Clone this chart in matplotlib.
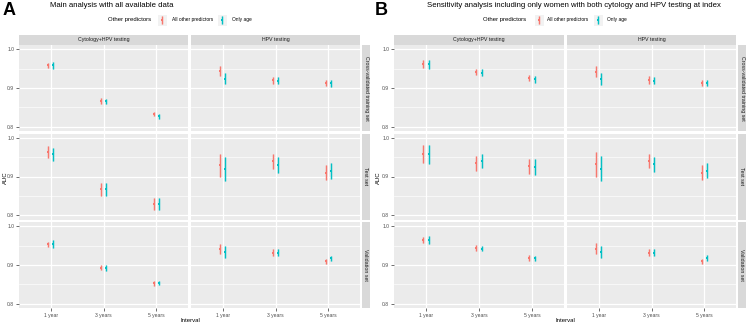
import matplotlib
matplotlib.use("Agg")
import matplotlib.pyplot as plt
import numpy as np

plt.rcParams['font.family'] = ['Liberation Sans', 'DejaVu Sans']

intervals = ["1 year", "3 years", "5 years"]
testing = ["Cytology+HPV testing", "HPV testing"]
sets = ["Cross-validated training set", "Test set", "Validation set"]
predictors = ["All other predictors", "Only age"]
colors = ["#F8766D", "#00BFC4"]

# Rows: sets; columns: Cytology+HPV (1y,3y,5y), HPV (1y,3y,5y)
# Panel A - All other predictors
A_all_auc = [[0.958, 0.867, 0.833, 0.944, 0.920, 0.912],
             [0.964, 0.867, 0.830, 0.930, 0.939, 0.910],
             [0.953, 0.893, 0.853, 0.941, 0.932, 0.909]]
A_all_lo = [[0.951, 0.860, 0.827, 0.931, 0.911, 0.904],
            [0.948, 0.849, 0.815, 0.900, 0.920, 0.890],
            [0.946, 0.887, 0.847, 0.927, 0.924, 0.902]]
A_all_hi = [[0.965, 0.874, 0.839, 0.957, 0.929, 0.920],
            [0.979, 0.884, 0.844, 0.959, 0.958, 0.930],
            [0.960, 0.899, 0.859, 0.955, 0.940, 0.916]]
# Panel A - Only age
A_age_auc = [[0.958, 0.866, 0.827, 0.924, 0.919, 0.912],
             [0.957, 0.867, 0.830, 0.919, 0.930, 0.914],
             [0.954, 0.892, 0.854, 0.934, 0.932, 0.917]]
A_age_lo = [[0.950, 0.859, 0.820, 0.909, 0.910, 0.903],
            [0.940, 0.849, 0.815, 0.888, 0.910, 0.894],
            [0.944, 0.885, 0.848, 0.919, 0.924, 0.910]]
A_age_hi = [[0.966, 0.873, 0.834, 0.939, 0.928, 0.921],
            [0.973, 0.884, 0.845, 0.951, 0.949, 0.934],
            [0.964, 0.899, 0.860, 0.948, 0.940, 0.924]]
# Panel B - All other predictors
B_all_auc = [[0.962, 0.942, 0.925, 0.942, 0.920, 0.912],
             [0.958, 0.935, 0.926, 0.932, 0.940, 0.910],
             [0.965, 0.944, 0.918, 0.942, 0.932, 0.909]]
B_all_lo = [[0.951, 0.934, 0.917, 0.928, 0.910, 0.904],
            [0.934, 0.915, 0.907, 0.900, 0.921, 0.890],
            [0.957, 0.937, 0.911, 0.927, 0.924, 0.902]]
B_all_hi = [[0.973, 0.950, 0.933, 0.956, 0.930, 0.920],
            [0.982, 0.953, 0.944, 0.962, 0.958, 0.930],
            [0.973, 0.951, 0.925, 0.956, 0.940, 0.916]]
# Panel B - Only age
B_age_auc = [[0.961, 0.939, 0.922, 0.923, 0.919, 0.912],
             [0.957, 0.941, 0.924, 0.920, 0.931, 0.915],
             [0.965, 0.942, 0.917, 0.934, 0.932, 0.917]]
B_age_lo = [[0.949, 0.930, 0.913, 0.908, 0.909, 0.904],
            [0.932, 0.922, 0.905, 0.888, 0.911, 0.895],
            [0.955, 0.935, 0.910, 0.918, 0.924, 0.909]]
B_age_hi = [[0.973, 0.948, 0.931, 0.938, 0.929, 0.920],
            [0.981, 0.958, 0.944, 0.952, 0.950, 0.935],
            [0.975, 0.949, 0.924, 0.949, 0.940, 0.925]]

y_ticks = [0.8, 0.9, 1.0]
y_ticklabels = ["0.8", "0.9", "1.0"]

W, H = 747, 325
fig = plt.figure(figsize=(W / 100, H / 100), dpi=100)


def box(x0, y0, x1, y1):
    return [x0 / W, 1 - y1 / H, (x1 - x0) / W, (y1 - y0) / H]


def draw_analysis(ox, letter, title, col_x, strip_x, data, auc_x, interval_x, legend_x):
    row_y = [(45, 131), (133.5, 219.5), (222, 308)]
    xpos = np.arange(len(intervals)) + 1
    dodge = 0.05
    for r, (y0, y1) in enumerate(row_y):
        for c, (x0, x1) in enumerate(col_x):
            ax = fig.add_axes(box(x0, y0, x1, y1))
            ax.set_facecolor("#EBEBEB")
            for s in ax.spines.values():
                s.set_visible(False)
            ax.set_xlim(0.4, 3.6)
            ax.set_ylim(0.7895, 1.0105)
            ax.set_yticks(y_ticks)
            ax.set_yticks([0.85, 0.95], minor=True)
            ax.set_xticks(xpos)
            ax.grid(True, which="major", color="white", lw=0.9)
            ax.grid(True, which="minor", axis="y", color="white", lw=0.45)
            ax.set_axisbelow(True)
            ax.tick_params(which="minor", length=0)
            ax.tick_params(which="major", length=2, width=0.5, color="#333333",
                           labelsize=3.6, labelcolor="#4D4D4D", pad=1.5)
            if c == 0:
                ax.set_yticklabels(y_ticklabels)
            else:
                ax.tick_params(axis="y", which="major", length=0, labelleft=False)
            if r == 2:
                ax.set_xticklabels(intervals)
            else:
                ax.tick_params(axis="x", which="major", length=0, labelbottom=False)
            for p, (auc, lo, hi) in enumerate(data):
                est = np.array(auc[r][c * 3:(c + 1) * 3])
                l = np.array(lo[r][c * 3:(c + 1) * 3])
                h = np.array(hi[r][c * 3:(c + 1) * 3])
                xx = xpos + (p * 2 - 1) * dodge
                ax.vlines(xx, l, h, color=colors[p], lw=1.8, alpha=0.3)
                ax.vlines(xx, l, h, color=colors[p], lw=0.7)
                ax.plot(xx, est, "s", color=colors[p], ms=2.0, mew=0)
            if r == 0:
                sa = fig.add_axes(box(x0, 35, x1, 44.5))
                sa.set_facecolor("#D9D9D9")
                sa.set_xticks([]); sa.set_yticks([])
                for s in sa.spines.values():
                    s.set_visible(False)
                sa.text(0.5, 0.5, testing[c], ha="center", va="center",
                        fontsize=3.8, color="#1A1A1A", transform=sa.transAxes)
        ra = fig.add_axes(box(strip_x[0], y0, strip_x[1], y1))
        ra.set_facecolor("#D9D9D9")
        ra.set_xticks([]); ra.set_yticks([])
        for s in ra.spines.values():
            s.set_visible(False)
        ra.text(0.5, 0.5, sets[r], ha="center", va="center", rotation=-90,
                fontsize=3.8, color="#1A1A1A", transform=ra.transAxes)
    # letter, title, axis labels
    fig.text((ox + 3) / W, 1 - 10.5 / H, letter, fontsize=13, fontweight="bold",
             ha="left", va="center")
    fig.text(title[1] / W, 1 - 5.5 / H, title[0], fontsize=5.6, ha="left",
             va="center", color="black")
    fig.text(auc_x / W, 1 - 178 / H, "AUC", rotation=90, fontsize=4.3,
             ha="center", va="center")
    fig.text(interval_x / W, 1 - 320.5 / H, "Interval", fontsize=4.3,
             ha="center", va="center")
    # legend
    lx = legend_x
    fig.text(lx[0] / W, 1 - 20 / H, "Other predictors", fontsize=4.3,
             ha="left", va="center")
    for p in range(2):
        ka = fig.add_axes(box(lx[1 + 2 * p], 15, lx[1 + 2 * p] + 8.5, 25.5))
        ka.set_facecolor("#F2F2F2")
        ka.set_xticks([]); ka.set_yticks([])
        for s in ka.spines.values():
            s.set_visible(False)
        ka.set_xlim(-1, 1); ka.set_ylim(-1, 1)
        ka.vlines([0], [-0.8], [0.8], color=colors[p], lw=1.8, alpha=0.3)
        ka.vlines([0], [-0.8], [0.8], color=colors[p], lw=0.7)
        ka.plot([0], [0], "s", color=colors[p], ms=2.0, mew=0)
        fig.text(lx[2 + 2 * p] / W, 1 - 20 / H, predictors[p], fontsize=3.5,
                 ha="left", va="center")


draw_analysis(0, "A", ("Main analysis with all available data", 50),
              [(19, 188), (191, 360)], (362, 370),
              [(A_all_auc, A_all_lo, A_all_hi), (A_age_auc, A_age_lo, A_age_hi)],
              5, 190, [108, 158, 172, 218, 232])
draw_analysis(372, "B", ("Sensitivity analysis including only women with both cytology and HPV testing at index", 427),
              [(394, 564), (567, 736)], (738, 746),
              [(B_all_auc, B_all_lo, B_all_hi), (B_age_auc, B_age_lo, B_age_hi)],
              378, 565, [483, 535, 547, 594, 607])

fig.savefig("out.png", dpi=100)
